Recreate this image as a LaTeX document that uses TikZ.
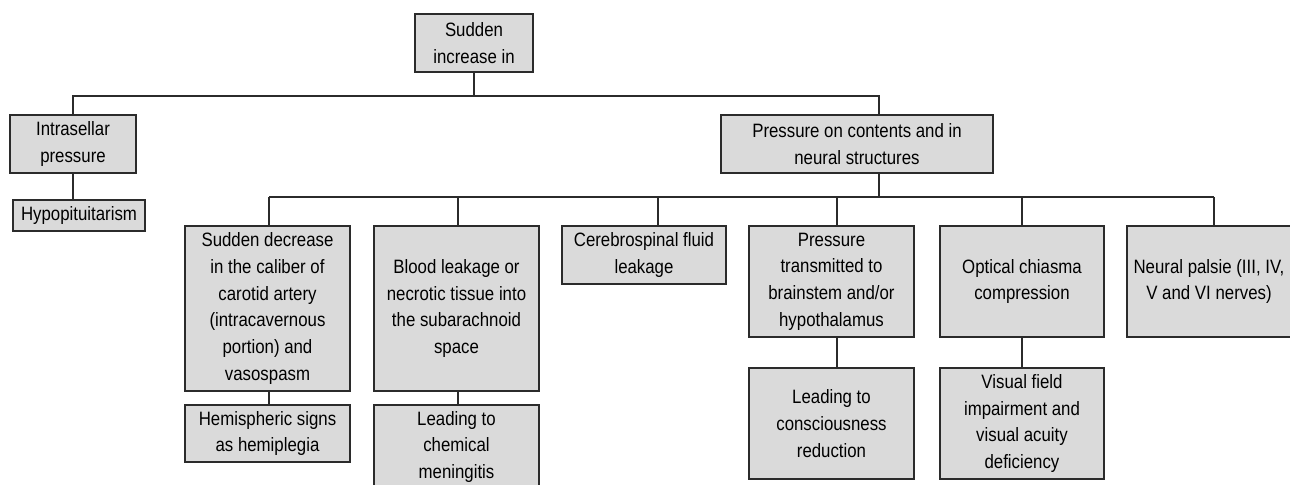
\documentclass[tikz,border=0pt]{standalone}
\usepackage{fontspec}
\setmainfont{Liberation Sans}[FakeStretch=0.87]
\usepackage{tikz}
\definecolor{boxgray}{HTML}{DADADA}
\definecolor{linegray}{HTML}{2B2B2B}

\begin{document}
\begin{tikzpicture}[x=0.75pt,y=-0.75pt,
	every node/.style={draw=linegray,fill=boxgray,line width=0.9pt,align=center,inner sep=0pt,
		font=\fontsize{14.5}{20}\selectfont},
	wh/.style 2 args={minimum width=#1*0.75pt,minimum height=#2*0.75pt}]
					\useasboundingbox (0,0) rectangle (1290,485);
					\clip (0,0) rectangle (1290,485);
					%top box and first level placed by hand
					\node[wh={118}{58}] (top) at (474,43){Sudden\\increase in};
					\node[wh={126}{58}] (intra) at (73,144){Intrasellar\\pressure};
					\node[wh={132}{31}] (hypo) at (79,215.5){Hypopituitarism};
					\node[wh={272}{58}] (press) at (857,144){Pressure on contents and in\\neural structures};
					%% second level
					\node[wh={165}{165}] (dec) at (267.5,308.5){Sudden decrease\\in the caliber of\\carotid artery\\(intracavernous\\portion) and\\vasospasm};
					\node[wh={165}{165}] (blood) at (456.5,308.5){Blood leakage or\\necrotic tissue into\\the subarachnoid\\space};
					\node[wh={164}{58}] (csf) at (644,255){Cerebrospinal fluid\\leakage};
					\node[wh={165}{111}] (trans) at (831.5,281.5){Pressure\\transmitted to\\brainstem and/or\\hypothalamus};
					\node[wh={164}{111}] (chiasm) at (1022,281.5){Optical chiasma\\compression};
					\node[wh={164}{111}] (palsy) at (1209,281.5){Neural palsie (III, IV,\\V and VI nerves)};
					%% third level
					\node[wh={165}{57}] (hemi) at (267.5,433.5){Hemispheric signs\\as hemiplegia};
					\node[wh={165}{84}] (menin) at (456.5,447){Leading to\\chemical\\meningitis};
					\node[wh={165}{111}] (consc) at (831.5,423.5){Leading to\\consciousness\\reduction};
					\node[wh={164}{111}] (visual) at (1022,423.5){Visual field\\impairment and\\visual acuity\\deficiency};
					%% bus lines
					\begin{scope}[draw=linegray,line width=0.9pt]
					\draw (top.south) -- (top.south |- 0,96);
					\draw (intra.north) -- (intra.north |- 0,96) -- (879,96) -- (press.north -| 879,0);
					\draw (intra.south) -- (hypo.north -| intra.south);
					\draw (press.south -| 879,0) -- (879,197);
					\draw (269,197) -- (1214,197);
					%% stems down to the second level drawn with a loop
					\foreach \n/\x in {dec/269,blood/458,csf/658,trans/837,chiasm/1022,palsy/1214}{
						\draw (\x,197) -- (\n.north -| \x,0);
						}
					%% stems down to the third level
					\foreach \a/\b/\x in {dec/hemi/269,blood/menin/458,trans/consc/837,chiasm/visual/1022}{
						\draw (\a.south -| \x,0) -- (\b.north -| \x,0);
						}
					\end{scope}
					\end{tikzpicture}
\end{document}
